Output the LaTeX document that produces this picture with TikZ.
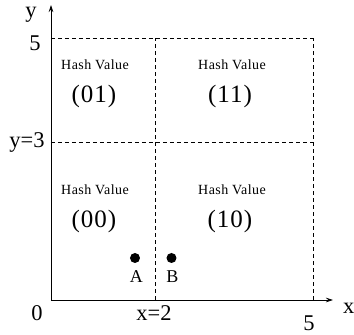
\documentclass[tikz,border=0pt]{standalone}
\usepackage{fontspec}
\setmainfont{Liberation Serif}
\usetikzlibrary{arrows.meta}
\begin{document}
\begin{tikzpicture}[x=52.4pt,y=52.4pt,
  grid/.style={dashed,dash pattern=on 4pt off 3pt,line width=0.6pt},
  axis/.style={line width=0.7pt,-{Stealth[length=7pt,width=4.5pt]}},
  lab/.style={inner sep=0pt,font=\fontsize{22.5}{24}\selectfont},
  hv/.style={inner sep=0pt,font=\fontsize{14}{16}\selectfont\addfontfeature{LetterSpace=3}},
  code/.style={inner sep=0pt,font=\fontsize{25}{27}\selectfont\addfontfeature{LetterSpace=4}},
  pt/.style={circle,fill=black,inner sep=0pt,minimum size=10pt},
  ptlab/.style={inner sep=0pt,font=\fontsize{18}{20}\selectfont}]
\useasboundingbox (-51pt,-35pt) rectangle (303pt,300pt);
\coordinate (O) at (0,0);
\coordinate (xend) at (282pt,0);
\coordinate (yend) at (0,295pt);
\coordinate (x2b) at (2,0); \coordinate (x2t) at (2,5);
\coordinate (x5b) at (5,0); \coordinate (x5t) at (5,5);
\coordinate (y3l) at (0,3); \coordinate (y3r) at (5,3);
\coordinate (y5l) at (0,5);
\draw[axis] (O) -- (xend);
\draw[axis] (O) -- (yend);
\draw[grid] (y5l) -- (x5t);
\draw[grid] (y3l) -- (y3r);
\draw[grid] (x2b) -- (x2t);
\draw[grid] (x5b) -- (x5t);
\node[lab,anchor=base] (ylab) at (-20pt,282pt) {y};
\node[lab] (y5) at (-16pt,257pt) {5};
\node[lab] (y3) at (-24pt,158pt) {y=3};
\node[lab] (zero) at (-14pt,-13pt) {0};
\node[lab] (x2) at (103pt,-13.5pt) {x=2};
\node[lab] (x5) at (258pt,-23pt) {5};
\node[lab,anchor=base west] (xlab) at (292pt,-13pt) {x};
\node[hv] (hv01) at (44pt,235pt) {Hash Value};
\node[code] (c01) at (43pt,204pt) {(01)};
\node[hv] (hv11) at (181pt,235pt) {Hash Value};
\node[code] (c11) at (179pt,204pt) {(11)};
\node[hv] (hv00) at (44pt,110pt) {Hash Value};
\node[code] (c00) at (43pt,79pt) {(00)};
\node[hv] (hv10) at (181pt,110pt) {Hash Value};
\node[code] (c10) at (179pt,79pt) {(10)};
\node[pt] (A) at (84pt,42pt) {};
\node[pt] (B) at (120.5pt,42pt) {};
\node[ptlab] (Alab) at (85.5pt,23pt) {A};
\node[ptlab] (Blab) at (121.5pt,23pt) {B};
\end{tikzpicture}
\end{document}
